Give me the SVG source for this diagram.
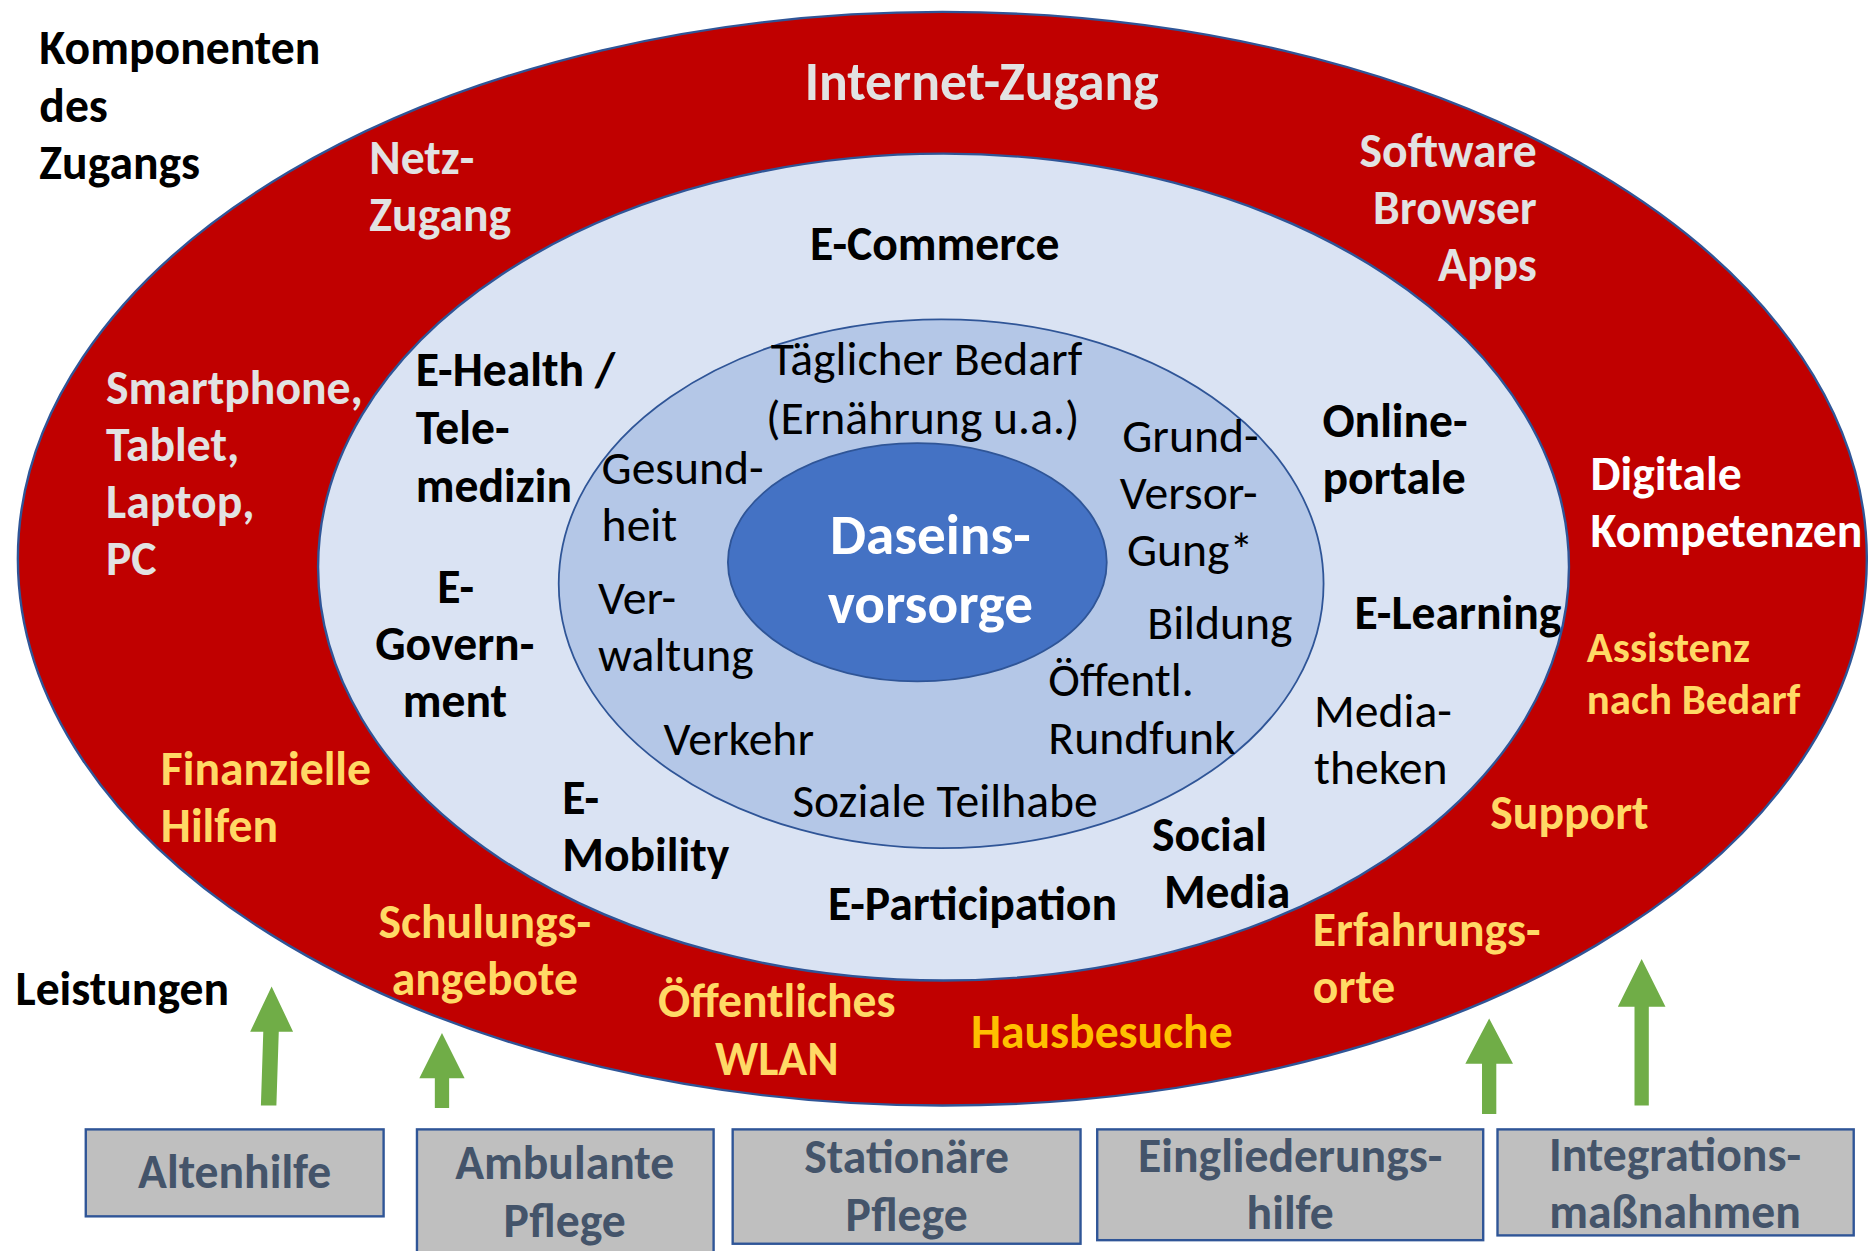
<svg xmlns="http://www.w3.org/2000/svg" width="1868" height="1251" viewBox="0 0 1868 1251">
<style>
text{font-family:Carlito,Calibri,"Open Sans",sans-serif;font-size:40px}
.b{font-weight:bold}
.k{fill:#000}
.g{fill:#E2E2E2;font-weight:bold}
.w{fill:#FFFFFF;font-weight:bold}
.y{fill:#FFD966;font-weight:bold}
.o{fill:#FFC000;font-weight:bold}
.m{text-anchor:middle}
.e{text-anchor:end}
.bx{fill:#BFBFBF;stroke:#2F5597;stroke-width:2}
.bt{fill:#44546A;font-weight:bold;text-anchor:middle}
.ar{fill:#70AD47}
</style>
<rect width="1868" height="1251" fill="#FFFFFF"/>
<g transform="scale(1.19133)">
<g id="ring-outer">
<ellipse cx="791" cy="469" rx="776" ry="459" fill="#C00000" stroke="#2F5597" stroke-width="2"/>
</g>
<g id="ring-middle">
<ellipse cx="792" cy="476" rx="525" ry="347" fill="#DAE3F3" stroke="#2F5597" stroke-width="2"/>
</g>
<g id="ring-inner">
<ellipse cx="790" cy="490" rx="321" ry="222" fill="#B4C7E7" stroke="#2F5597" stroke-width="1.5"/>
</g>
<g id="core">
<ellipse cx="770" cy="472" rx="159" ry="100" fill="#4472C4" stroke="#2F5597" stroke-width="1.5"/>
<text class="w m" x="781" y="465" style="font-size:48px">Daseins-</text>
<text class="w m" x="781" y="523" style="font-size:48px">vorsorge</text>
</g>
<g id="labels-left">
<text class="b k" x="33" y="54">Komponenten</text>
<text class="b k" x="33" y="102">des</text>
<text class="b k" x="33" y="150">Zugangs</text>
<text class="b k" x="13" y="844">Leistungen</text>
</g>
<g id="outer-texts">
<text class="g m" x="824" y="84" style="font-size:45px">Internet-Zugang</text>
<text class="g" x="310" y="146">Netz-</text>
<text class="g" x="310" y="194">Zugang</text>
<text class="g e" x="1290" y="140">Software</text>
<text class="g e" x="1290" y="188">Browser</text>
<text class="g e" x="1290" y="236">Apps</text>
<text class="g" x="89" y="339">Smartphone,</text>
<text class="g" x="89" y="387">Tablet,</text>
<text class="g" x="89" y="435">Laptop,</text>
<text class="g" x="89" y="483">PC</text>
<text class="w" x="1335" y="411">Digitale</text>
<text class="w" x="1335" y="459">Kompetenzen</text>
<text class="y" x="1332" y="556" style="font-size:36px">Assistenz</text>
<text class="y" x="1332" y="599" style="font-size:36px">nach Bedarf</text>
<text class="y" x="135" y="659">Finanzielle</text>
<text class="y" x="135" y="707">Hilfen</text>
<text class="y m" x="407" y="787">Schulungs-</text>
<text class="y m" x="407" y="835">angebote</text>
<text class="y m" x="652" y="854">Öffentliches</text>
<text class="y m" x="652" y="902">WLAN</text>
<text class="o" x="815" y="880">Hausbesuche</text>
<text class="y" x="1102" y="794">Erfahrungs-</text>
<text class="y" x="1102" y="842">orte</text>
<text class="y" x="1251" y="696">Support</text>
</g>
<g id="middle-texts">
<text class="b k" x="680" y="218">E-Commerce</text>
<text class="b k" x="349" y="324">E-Health /</text>
<text class="b k" x="349" y="373">Tele-</text>
<text class="b k" x="349" y="421">medizin</text>
<text class="b k" x="1110" y="367">Online-</text>
<text class="b k" x="1110" y="415">portale</text>
<text class="b k" x="367" y="506">E-</text>
<text class="b k" x="315" y="554">Govern-</text>
<text class="b k" x="338" y="602">ment</text>
<text class="b k" x="1137" y="528">E-Learning</text>
<text class="k" x="1103" y="610">Media-</text>
<text class="k" x="1103" y="658">theken</text>
<text class="b k" x="472" y="683">E-</text>
<text class="b k" x="472" y="731">Mobility</text>
<text class="b k" x="695" y="772">E-Participation</text>
<text class="b k" x="967" y="714">Social</text>
<text class="b k" x="977" y="762">Media</text>
</g>
<g id="inner-texts">
<text class="k" x="647" y="315">Täglicher Bedarf</text>
<text class="k" x="643" y="364">(Ernährung u.a.)</text>
<text class="k" x="505" y="406">Gesund-</text>
<text class="k" x="505" y="454">heit</text>
<text class="k" x="942" y="379">Grund-</text>
<text class="k" x="940" y="427">Versor-</text>
<text class="k" x="946" y="475">Gung*</text>
<text class="k" x="502" y="515">Ver-</text>
<text class="k" x="502" y="563">waltung</text>
<text class="k" x="963" y="536">Bildung</text>
<text class="k" x="880" y="584">Öffentl.</text>
<text class="k" x="880" y="633">Rundfunk</text>
<text class="k" x="557" y="634">Verkehr</text>
<text class="k" x="665" y="686">Soziale Teilhabe</text>
</g>
<g id="connectors">
<polygon class="ar" points="219,928 232,928 234,866 246,866 228,828 210,866 221,866"/>
<polygon class="ar" points="365,930 377,930 377,905 390,905 371,867 352,905 365,905"/>
<polygon class="ar" points="1244,935 1256,935 1256,893 1270,893 1250,855 1230,893 1244,893"/>
<polygon class="ar" points="1372,928 1384,928 1384,845 1398,845 1378,805 1358,845 1372,845"/>
</g>
<g id="box-altenhilfe">
<rect class="bx" x="72" y="948" width="250" height="73"/>
<text class="bt" x="197" y="997">Altenhilfe</text>
</g>
<g id="box-ambulante">
<rect class="bx" x="350" y="948" width="249" height="110"/>
<text class="bt" x="474" y="990">Ambulante</text>
<text class="bt" x="474" y="1038">Pflege</text>
</g>
<g id="box-stationaere">
<rect class="bx" x="615" y="948" width="292" height="96"/>
<text class="bt" x="761" y="985">Stationäre</text>
<text class="bt" x="761" y="1033">Pflege</text>
</g>
<g id="box-eingliederung">
<rect class="bx" x="921" y="948" width="324" height="93"/>
<text class="bt" x="1083" y="984">Eingliederungs-</text>
<text class="bt" x="1083" y="1032">hilfe</text>
</g>
<g id="box-integration">
<rect class="bx" x="1257" y="948" width="299" height="89"/>
<text class="bt" x="1406" y="983">Integrations-</text>
<text class="bt" x="1406" y="1031">maßnahmen</text>
</g>
</g>
</svg>
